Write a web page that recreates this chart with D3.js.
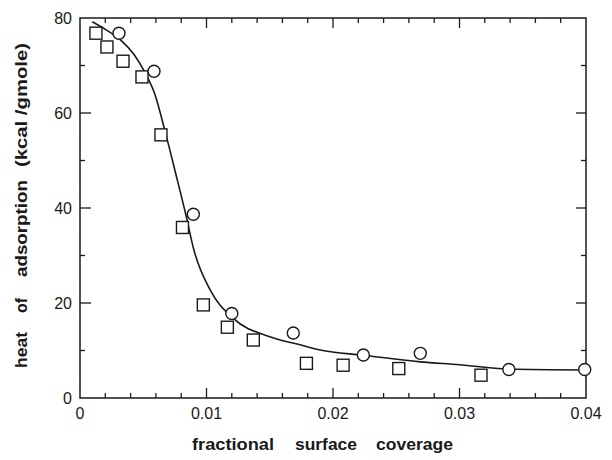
<!DOCTYPE html>
<html>
<head>
<meta charset="utf-8">
<script src="https://cdn.jsdelivr.net/npm/d3@7"></script>
<style>
    body { margin: 0; background: #fff; }
    svg text { font-family: "Liberation Sans", "DejaVu Sans", sans-serif; fill: #1a1a1a; }
</style>
</head>
<body>
<div id="chart"></div>
<script>
// data
const squareX = [0.00126, 0.00213, 0.0034, 0.0049, 0.0064, 0.0081, 0.00975, 0.01165, 0.0137, 0.0179, 0.0208, 0.0252, 0.0317];
const squareY = [76.8, 73.9, 70.9, 67.6, 55.4, 35.9, 19.6, 14.9, 12.2, 7.3, 6.9, 6.2, 4.8];
const circleX = [0.00308, 0.00585, 0.00896, 0.0120, 0.01686, 0.0224, 0.0269, 0.0339, 0.0399];
const circleY = [76.8, 68.8, 38.7, 17.8, 13.7, 9.05, 9.4, 6.0, 6.0];
const fitX = [0.00097, 0.0020, 0.0032, 0.0043, 0.0051, 0.0059, 0.0067, 0.0076, 0.0084, 0.0090, 0.0103, 0.0121, 0.0150, 0.0174, 0.0190, 0.0224, 0.0269, 0.0300, 0.0338, 0.0399];
const fitY = [79.2, 77.6, 75.4, 72.2, 68.7, 64.1, 56.4, 46.9, 38.2, 31.2, 22.7, 16.8, 12.9, 11.2, 10.1, 9.0, 7.6, 7.0, 6.1, 5.9];
const xTicks = [0, 0.01, 0.02, 0.03, 0.04];
const xTickLabels = ['0', '0.01', '0.02', '0.03', '0.04'];
const yTicks = [0, 20, 40, 60, 80];
const xLabelWords = ['fractional', 'surface', 'coverage'];
const yLabelWords = ['heat', 'of', 'adsorption', '(kcal /gmole)'];

const width = 612, height = 460;
const plot = {left: 80, right: 586, top: 18, bottom: 398};
const ink = '#1a1a1a';

const svg = d3.select('#chart').append('svg')
    .attr('width', width)
    .attr('height', height);

const x = d3.scaleLinear().domain([0, 0.04]).range([plot.left, plot.right]);
const y = d3.scaleLinear().domain([0, 80]).range([plot.bottom, plot.top]);

// frame
svg.append('rect')
    .attr('x', plot.left).attr('y', plot.top)
    .attr('width', plot.right - plot.left)
    .attr('height', plot.bottom - plot.top)
    .attr('fill', 'none')
    .attr('stroke', ink)
    .attr('stroke-width', 1.5);

// inward ticks on all four sides (minor every 0.002 / 10)
const xMinor = d3.range(0, 0.0401, 0.002);
const yMinor = d3.range(0, 81, 10);
const isMajorX = v => Math.abs(v * 100 - Math.round(v * 100)) < 1e-6;
const isMajorY = v => v % 20 === 0;

const tickGroup = svg.append('g').attr('stroke', ink).attr('stroke-width', 1.3);
tickGroup.selectAll('line.xb')
    .data(xMinor.slice(1, -1))
    .join('line')
    .attr('x1', d => x(d)).attr('x2', d => x(d))
    .attr('y1', plot.bottom).attr('y2', d => plot.bottom - (isMajorX(d) ? 10 : 5));
tickGroup.selectAll('line.xt')
    .data(xMinor.slice(1, -1))
    .join('line')
    .attr('x1', d => x(d)).attr('x2', d => x(d))
    .attr('y1', plot.top).attr('y2', d => plot.top + (isMajorX(d) ? 10 : 5));
tickGroup.selectAll('line.yl')
    .data(yMinor.slice(1, -1))
    .join('line')
    .attr('y1', d => y(d)).attr('y2', d => y(d))
    .attr('x1', plot.left).attr('x2', d => plot.left + (isMajorY(d) ? 11 : 5));
tickGroup.selectAll('line.yr')
    .data(yMinor.slice(1, -1))
    .join('line')
    .attr('y1', d => y(d)).attr('y2', d => y(d))
    .attr('x1', plot.right).attr('x2', d => plot.right - (isMajorY(d) ? 10 : 5));

// tick labels
svg.selectAll('text.xtick')
    .data(xTicks)
    .join('text')
    .attr('x', d => x(d))
    .attr('y', plot.bottom + 21)
    .attr('text-anchor', 'middle')
    .attr('font-size', 16)
    .text((d, i) => xTickLabels[i]);
svg.selectAll('text.ytick')
    .data(yTicks)
    .join('text')
    .attr('x', plot.left - 8)
    .attr('y', d => y(d) + 6)
    .attr('text-anchor', 'end')
    .attr('font-size', 16)
    .text(d => d);

// axis titles: the lettering is widely spaced, so each word gets its own slot
const xWordSlots = [[192, 82], [295, 62], [376, 77]];
svg.selectAll('text.xlabel')
    .data(xLabelWords)
    .join('text')
    .attr('x', (d, i) => xWordSlots[i][0])
    .attr('y', 450)
    .attr('font-size', 16)
    .attr('font-weight', 'bold')
    .attr('textLength', (d, i) => xWordSlots[i][1])
    .attr('lengthAdjust', 'spacingAndGlyphs')
    .text(d => d);

const yWordSlots = [[368, 36], [313, 15], [277, 97], [167, 124]];
svg.append('g')
    .attr('transform', 'translate(27,0) rotate(-90)')
    .selectAll('text')
    .data(yLabelWords)
    .join('text')
    .attr('x', (d, i) => -yWordSlots[i][0])
    .attr('y', 0)
    .attr('font-size', 16)
    .attr('font-weight', 'bold')
    .attr('textLength', (d, i) => yWordSlots[i][1])
    .attr('lengthAdjust', 'spacingAndGlyphs')
    .text(d => d);

// fitted curve
const fit = fitX.map((v, i) => [v, fitY[i]]);
svg.append('path')
    .datum(fit)
    .attr('fill', 'none')
    .attr('stroke', ink)
    .attr('stroke-width', 1.6)
    .attr('d', d3.line().x(d => x(d[0])).y(d => y(d[1])).curve(d3.curveMonotoneX));

// markers
const squares = squareX.map((v, i) => [v, squareY[i]]);
const circles = circleX.map((v, i) => [v, circleY[i]]);
const s = 12;
svg.selectAll('rect.sq')
    .data(squares)
    .join('rect')
    .attr('x', d => x(d[0]) - s / 2)
    .attr('y', d => y(d[1]) - s / 2)
    .attr('width', s).attr('height', s)
    .attr('fill', '#fff')
    .attr('stroke', ink)
    .attr('stroke-width', 1.4);
svg.selectAll('circle.pt')
    .data(circles)
    .join('circle')
    .attr('cx', d => x(d[0]))
    .attr('cy', d => y(d[1]))
    .attr('r', 6)
    .attr('fill', '#fff')
    .attr('stroke', ink)
    .attr('stroke-width', 1.4);
</script>
</body>
</html>
